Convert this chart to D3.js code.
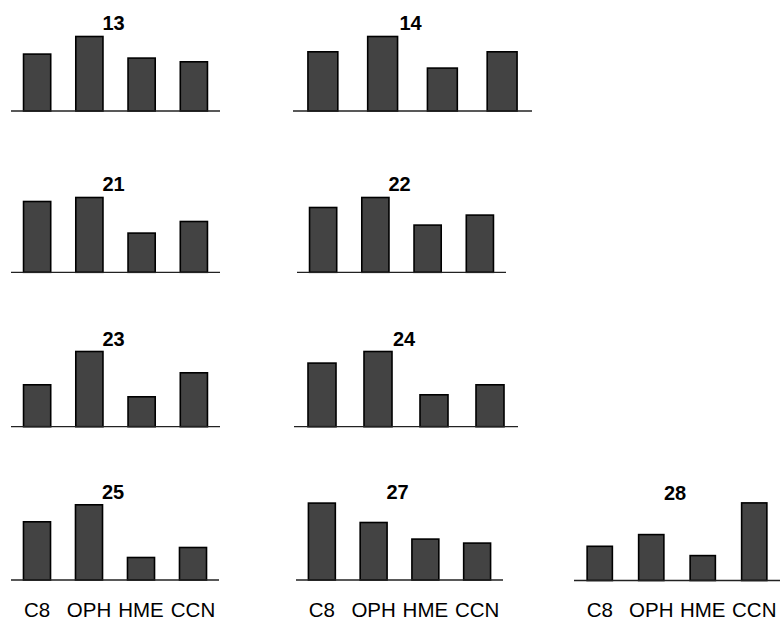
<!DOCTYPE html>
<html>
<head>
<meta charset="utf-8">
<script src="https://cdn.jsdelivr.net/npm/d3@7"></script>
<style>
  html, body { margin: 0; padding: 0; background: #fff; }
  svg { display: block; }
  text { font-family: Arial, "Liberation Sans", sans-serif; fill: #000; }
</style>
</head>
<body>
<svg id="chart" width="784" height="622"></svg>
<script>
// Categories shared by every small panel
const categories = ["C8", "OPH", "HME", "CCN"];

// Panel identifiers (drawn as each panel's title)
const panelIds = ["13", "14", "21", "22", "23", "24", "25", "27", "28"];

// Values per panel, in category order
const s13 = [57.7, 75.3, 53.7, 50.0];
const s14 = [60.0, 75.3, 43.7, 60.0];
const s21 = [71.6, 75.6, 40.0, 51.6];
const s22 = [65.6, 75.6, 48.0, 58.0];
const s23 = [42.7, 76.0, 30.7, 54.7];
const s24 = [64.4, 76.0, 32.7, 42.7];
const s25 = [59.0, 76.0, 23.3, 33.3];
const s27 = [77.7, 58.3, 41.7, 37.7];
const s28 = [35.0, 46.7, 25.7, 78.4];

const seriesList = [s13, s14, s21, s22, s23, s24, s25, s27, s28];

// Layout of each panel: axis extent, baseline, bar padding, and whether category labels show
const layout = [
  { x0: 11,  x1: 220, base: 111,   pad: 0.48, labels: false },
  { x0: 293, x1: 532, base: 111,   pad: 0.50, labels: false },
  { x0: 11,  x1: 220, base: 272.3, pad: 0.48, labels: false },
  { x0: 297, x1: 506, base: 272.3, pad: 0.48, labels: false },
  { x0: 11,  x1: 220, base: 426.7, pad: 0.48, labels: false },
  { x0: 294, x1: 518, base: 426.7, pad: 0.50, labels: false },
  { x0: 11,  x1: 219, base: 580,   pad: 0.48, labels: true },
  { x0: 296, x1: 503, base: 580,   pad: 0.48, labels: true },
  { x0: 574, x1: 780, base: 580.5, pad: 0.51, labels: true }
];

const svg = d3.select("#chart");

// Common value scale: bar height in pixels
const y = d3.scaleLinear().domain([0, 80]).range([0, 80]);

seriesList.forEach((vals, k) => {
  const L = layout[k];
  const x = d3.scaleBand()
    .domain(categories)
    .range([L.x0, L.x1])
    .paddingInner(L.pad)
    .paddingOuter(L.pad / 2);

  const g = svg.append("g");

  g.selectAll("rect")
    .data(vals)
    .join("rect")
    .attr("x", (d, i) => x(categories[i]))
    .attr("width", x.bandwidth())
    .attr("y", d => L.base - y(d) + 0.8)
    .attr("height", d => y(d) - 0.8)
    .attr("fill", "#434343")
    .attr("stroke", "#000")
    .attr("stroke-width", 1.6);

  // baseline
  g.append("line")
    .attr("x1", L.x0).attr("x2", L.x1)
    .attr("y1", L.base).attr("y2", L.base)
    .attr("stroke", "#222")
    .attr("stroke-width", 1.3);

  // panel title
  g.append("text")
    .attr("x", (L.x0 + L.x1) / 2 - 2)
    .attr("y", L.base - 81)
    .attr("text-anchor", "middle")
    .attr("font-size", 20)
    .attr("font-weight", "bold")
    .text(panelIds[k]);

  if (L.labels) {
    g.selectAll("text.cat")
      .data(categories)
      .join("text")
      .attr("class", "cat")
      .attr("x", d => x(d) + x.bandwidth() / 2)
      .attr("y", 617)
      .attr("text-anchor", "middle")
      .attr("font-size", 20.5)
      .text(d => d);
  }
});
</script>
</body>
</html>
